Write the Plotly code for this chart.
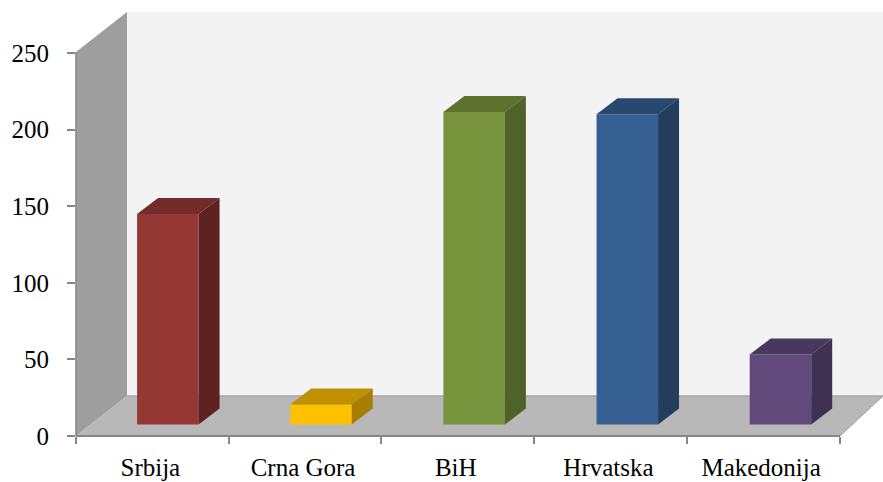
import plotly.graph_objects as go

categories = ["Srbija", "Crna Gora", "BiH", "Hrvatska", "Makedonija"]
values = [137.4, 13.0, 204.0, 202.5, 45.7]
y_ticks = [0, 50, 100, 150, 200, 250]
front_colors = ["#953735", "#FFC000", "#77933C", "#376092", "#604A7B"]
top_colors = ["#722B29", "#BF9000", "#5B712D", "#29486E", "#48385C"]
side_colors = ["#5E2321", "#A87E00", "#4F6228", "#233D5D", "#3F3151"]

W, H = 883, 482
L, R, T, B = 76, 0, 12, 46
PW, PH = W - L - R, H - T - B
px_per_cat = 152.7
px_per_unit = 1.532
x_max = -0.5 + PW / px_per_cat
y_max = PH / px_per_unit

bar_width = 61.5 / px_per_cat
depth_x = 21 / px_per_cat
depth_y = 16 / px_per_unit
floor_base = 11.5 / px_per_unit
offsets = [-0.1 + 0.003 * i for i in range(len(categories))]


def fx(px):
    return (px - L) / PW


def fy(py):
    return (T + PH - py) / PH


def poly(points):
    return "M" + " L".join(f"{fx(a):.5f},{fy(b):.5f}" for a, b in points) + " Z"


def surface(points, color):
    return dict(type="path", xref="paper", yref="paper", layer="below", path=poly(points),
                fillcolor=color, line=dict(color=color, width=0))


shapes = [
    surface([(127, 12), (883, 12), (883, 396), (127, 396)], "#F3F3F3"),
    surface([(76, 52), (127, 12), (127, 396), (76, 436)], "#9E9E9E"),
    surface([(76, 436), (127, 396), (883, 396), (840, 436)], "#B8B8B8"),
    dict(type="line", xref="paper", yref="paper", layer="below",
         x0=fx(127), x1=1, y0=fy(396), y1=fy(396), line=dict(color="#A6A6A6", width=1.5)),
    dict(type="line", xref="paper", yref="paper", layer="below",
         x0=fx(840), x1=fx(883), y0=fy(436), y1=fy(396), line=dict(color="#A0A0A0", width=1)),
    dict(type="line", xref="paper", yref="paper", layer="below", x0=0, x1=0,
         y0=0, y1=fy(52), line=dict(color="#868686", width=1.5)),
    dict(type="line", xref="paper", yref="paper", layer="below", x0=0, x1=fx(840),
         y0=0, y1=0, line=dict(color="#868686", width=2)),
]

fig = go.Figure()
fig.add_trace(go.Bar(
    x=categories, y=values, base=[floor_base] * len(values),
    width=bar_width, offset=offsets,
    marker=dict(color=front_colors, line=dict(width=0)),
    showlegend=False, hovertemplate="%{x}: %{y}<extra></extra>",
))

for i, v in enumerate(values):
    x0 = i + offsets[i]
    x1 = x0 + bar_width
    y0 = floor_base
    y1 = floor_base + v
    fig.add_trace(go.Scatter(
        x=[x0, x1, x1 + depth_x, x0 + depth_x, x0],
        y=[y1, y1, y1 + depth_y, y1 + depth_y, y1],
        xaxis="x2", yaxis="y",
        mode="lines", fill="toself", fillcolor=top_colors[i],
        line=dict(width=0), hoverinfo="skip", showlegend=False,
    ))
    fig.add_trace(go.Scatter(
        x=[x1, x1 + depth_x, x1 + depth_x, x1, x1],
        y=[y0, y0 + depth_y, y1 + depth_y, y1, y0],
        xaxis="x2", yaxis="y",
        mode="lines", fill="toself", fillcolor=side_colors[i],
        line=dict(width=0), hoverinfo="skip", showlegend=False,
    ))

fig.update_layout(
    width=W, height=H,
    margin=dict(l=L, r=R, t=T, b=B, pad=0, autoexpand=False),
    paper_bgcolor="white", plot_bgcolor="white",
    font=dict(family="Liberation Serif", size=25, color="black"),
    shapes=shapes,
    xaxis=dict(
        type="category", categoryorder="array", categoryarray=categories,
        range=[-0.5, x_max], tickson="boundaries",
        ticks="outside", ticklen=7, tickwidth=1.5, tickcolor="#868686",
        showgrid=False, zeroline=False, showline=False,
        tickangle=0, ticklabelstandoff=14, ticklabelshift=-2,
    ),
    xaxis2=dict(
        type="linear", range=[-0.5, x_max], overlaying="x", side="bottom",
        visible=False, showgrid=False, zeroline=False,
    ),
    yaxis=dict(
        range=[0, y_max], tickvals=y_ticks,
        ticks="outside", ticklen=8, tickwidth=1.5, tickcolor="#868686",
        showgrid=False, zeroline=False, showline=False,
        ticklabelstandoff=13,
    ),
)

fig.write_html("out.html", config={"displayModeBar": False},
               post_script="document.body.style.margin='0';")
